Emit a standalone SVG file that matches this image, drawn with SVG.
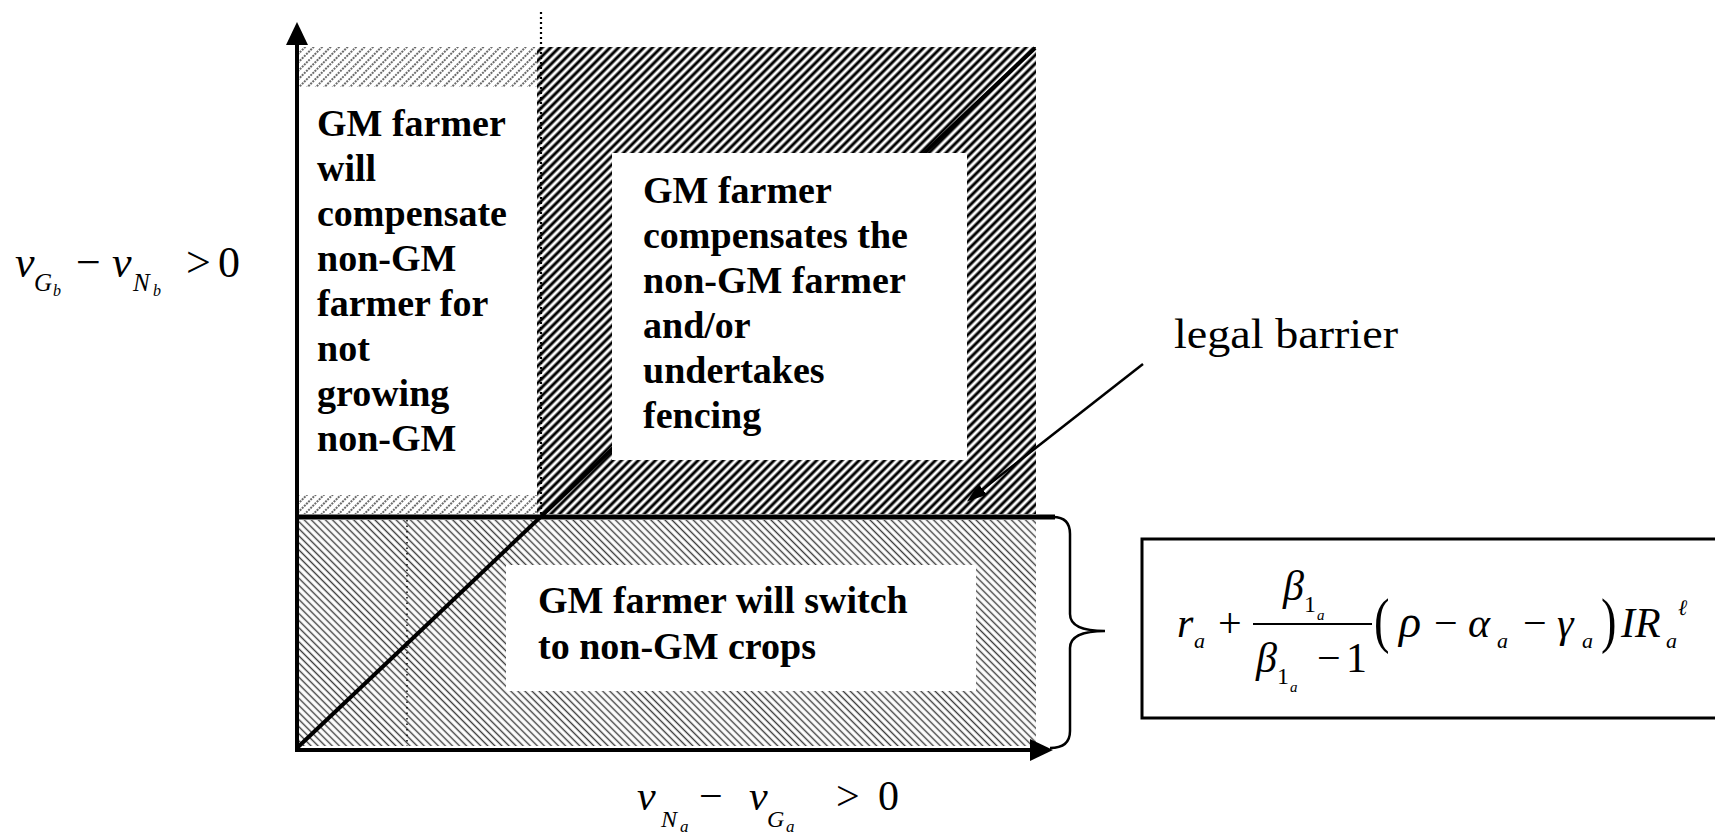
<svg xmlns="http://www.w3.org/2000/svg" width="1715" height="834" viewBox="0 0 1715 834">
<style>
  .bold{font-family:"Liberation Serif","Times New Roman",serif;font-weight:bold;font-size:38px;fill:#000}
  .rm{font-family:"Liberation Serif","DejaVu Serif",serif;fill:#000}
  .it{font-family:"Liberation Serif","DejaVu Serif",serif;font-style:italic;fill:#000}
  .ax{stroke:#000;stroke-width:4;fill:none}
</style>
<defs>
  <pattern id="hLight" width="6" height="6" patternUnits="userSpaceOnUse" patternTransform="rotate(45)">
    <line x1="3" y1="0" x2="3" y2="6" stroke="#3a3a3a" stroke-width="1.5" stroke-dasharray="2 1"/>
  </pattern>
  <pattern id="hDark" width="6" height="6" patternUnits="userSpaceOnUse" patternTransform="rotate(45)">
    <line x1="3" y1="0" x2="3" y2="6" stroke="#000" stroke-width="3"/>
  </pattern>
  <pattern id="hBack" width="5" height="5" patternUnits="userSpaceOnUse" patternTransform="rotate(-45)">
    <line x1="2.5" y1="0" x2="2.5" y2="5" stroke="#3c3c3c" stroke-width="1.4"/>
  </pattern>
  <marker id="axArrow" viewBox="0 0 23 22" refX="5" refY="11" markerWidth="23" markerHeight="22" orient="auto" markerUnits="userSpaceOnUse">
    <path d="M0,0 L23,11 L0,22 z" fill="#000"/>
  </marker>
  <marker id="ptArrow" viewBox="0 0 20 14" refX="6" refY="7" markerWidth="20" markerHeight="14" orient="auto" markerUnits="userSpaceOnUse">
    <path d="M0,0 L20,7 L0,14 z" fill="#000"/>
  </marker>
</defs>
<rect x="0" y="0" width="1715" height="834" fill="#fff"/>

<g id="regions">
  <rect x="299" y="47" width="238" height="40" fill="url(#hLight)"/>
  <rect x="299" y="495" width="238" height="19" fill="url(#hLight)"/>
  <rect x="537" y="47" width="499" height="467" fill="url(#hDark)"/>
  <rect x="299" y="520" width="737" height="226" fill="url(#hBack)"/>
  <line x1="407" y1="520" x2="407" y2="746" stroke="#000" stroke-width="1.5" stroke-dasharray="1.5 4"/>
  <line x1="541" y1="12" x2="541" y2="514" stroke="#000" stroke-width="2.2" stroke-dasharray="2 3"/>
</g>

<g id="connectors">
  <line id="diagonal" x1="297" y1="748" x2="1035" y2="48" stroke="#000" stroke-width="4"/>
  <line id="barrier" x1="297" y1="517" x2="1055" y2="517" stroke="#000" stroke-width="5"/>
  <path id="brace" d="M1053,517 Q1070,517 1070,534 L1070,614 Q1070,631 1105,631 Q1070,631 1070,648 L1070,731 Q1070,748 1050,748" fill="none" stroke="#000" stroke-width="2.5"/>
  <line id="legal-arrow" x1="1143" y1="364" x2="978" y2="493" stroke="#000" stroke-width="2.5" marker-end="url(#ptArrow)"/>
</g>

<g id="axes">
  <line class="ax" x1="297" y1="750" x2="297" y2="40" marker-end="url(#axArrow)"/>
  <line class="ax" x1="295" y1="750" x2="1035" y2="750" marker-end="url(#axArrow)"/>
</g>

<g id="node-left">
  <text class="bold" x="317" y="136">GM farmer</text>
  <text class="bold" x="317" y="181">will</text>
  <text class="bold" x="317" y="226">compensate</text>
  <text class="bold" x="317" y="271">non-GM</text>
  <text class="bold" x="317" y="316">farmer for</text>
  <text class="bold" x="317" y="361">not</text>
  <text class="bold" x="317" y="406">growing</text>
  <text class="bold" x="317" y="451">non-GM</text>
</g>

<g id="node-topright">
  <rect x="612" y="153" width="355" height="307" fill="#fff"/>
  <text class="bold" x="643" y="203">GM farmer</text>
  <text class="bold" x="643" y="248">compensates the</text>
  <text class="bold" x="643" y="293">non-GM farmer</text>
  <text class="bold" x="643" y="338">and/or</text>
  <text class="bold" x="643" y="383">undertakes</text>
  <text class="bold" x="643" y="428">fencing</text>
</g>

<g id="node-bottom">
  <rect x="506" y="565" width="470" height="126" fill="#fff"/>
  <text class="bold" x="538" y="613">GM farmer will switch</text>
  <text class="bold" x="538" y="659">to non-GM crops</text>
</g>

<g id="node-legal">
  <text class="rm" x="1174" y="348" font-size="42" textLength="224" lengthAdjust="spacingAndGlyphs">legal barrier</text>
</g>

<g id="label-y">
  <text class="it" x="15" y="277" font-size="44">v</text>
  <text class="it" x="34" y="291" font-size="25">G</text>
  <text class="it" x="53" y="296" font-size="16">b</text>
  <text class="rm" x="76" y="277" font-size="44">−</text>
  <text class="it" x="112" y="277" font-size="44">v</text>
  <text class="it" x="133" y="291" font-size="25">N</text>
  <text class="it" x="153" y="296" font-size="16">b</text>
  <text class="rm" x="186" y="277" font-size="44">&gt;</text>
  <text class="rm" x="218" y="277" font-size="44">0</text>
</g>

<g id="label-x">
  <text class="it" x="637" y="810" font-size="42">v</text>
  <text class="it" x="661" y="827" font-size="24">N</text>
  <text class="it" x="680" y="832" font-size="17">a</text>
  <text class="rm" x="699" y="810" font-size="42">−</text>
  <text class="it" x="749" y="810" font-size="42">v</text>
  <text class="it" x="767" y="827" font-size="24">G</text>
  <text class="it" x="786" y="832" font-size="17">a</text>
  <text class="rm" x="836" y="810" font-size="42">&gt;</text>
  <text class="rm" x="878" y="810" font-size="42">0</text>
</g>

<g id="node-formula">
  <path d="M1720,539 L1142,539 L1142,718 L1720,718" fill="none" stroke="#000" stroke-width="3"/>
  <text class="it" x="1177" y="637" font-size="42">r</text>
  <text class="it" x="1194" y="648" font-size="22">a</text>
  <text class="rm" x="1218" y="637" font-size="42">+</text>
  <line x1="1253" y1="624" x2="1372" y2="624" stroke="#000" stroke-width="2"/>
  <text class="it" x="1283" y="600" font-size="42">β</text>
  <text class="rm" x="1304" y="612" font-size="24">1</text>
  <text class="it" x="1317" y="620" font-size="15">a</text>
  <text class="it" x="1256" y="672" font-size="42">β</text>
  <text class="rm" x="1277" y="684" font-size="24">1</text>
  <text class="it" x="1290" y="692" font-size="15">a</text>
  <text class="rm" x="1317" y="672" font-size="42">−</text>
  <text class="rm" x="1346" y="672" font-size="42">1</text>
  <text class="rm" font-size="62" transform="translate(1374,641) scale(0.75,1)">(</text>
  <text class="it" x="1399" y="637" font-size="46">ρ</text>
  <text class="rm" x="1434" y="637" font-size="42">−</text>
  <text class="it" x="1468" y="637" font-size="42">α</text>
  <text class="it" x="1497" y="648" font-size="22">a</text>
  <text class="rm" x="1523" y="637" font-size="42">−</text>
  <text class="it" x="1557" y="637" font-size="42">γ</text>
  <text class="it" x="1582" y="648" font-size="22">a</text>
  <text class="rm" font-size="62" transform="translate(1601,641) scale(0.75,1)">)</text>
  <text class="it" x="1621" y="637" font-size="42">I</text>
  <text class="it" x="1635" y="637" font-size="42">R</text>
  <text class="it" x="1678" y="615" font-size="22">ℓ</text>
  <text class="it" x="1666" y="648" font-size="22">a</text>
</g>
</svg>
